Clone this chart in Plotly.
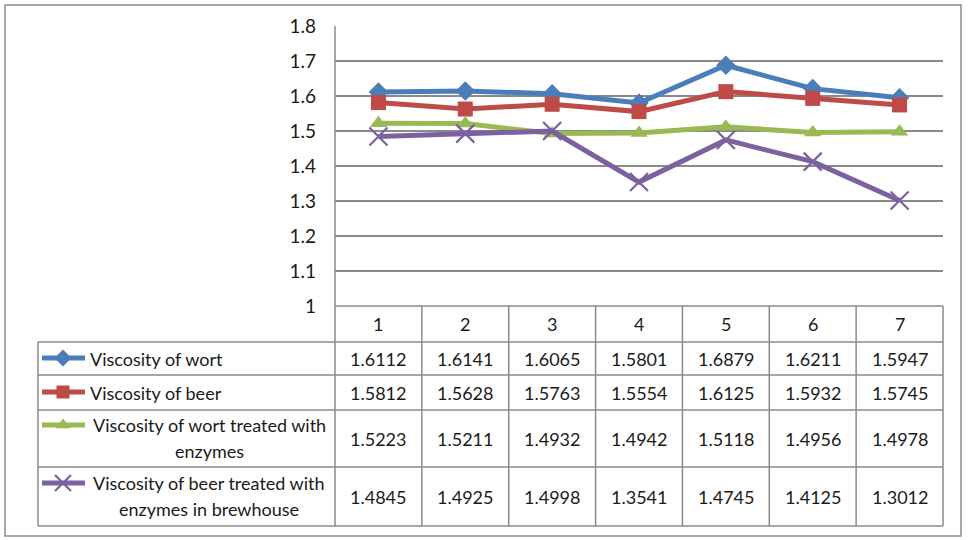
import plotly.graph_objects as go

W, H = 970, 540

categories = [1, 2, 3, 4, 5, 6, 7]
series_names = [
    "Viscosity of wort",
    "Viscosity of beer",
    "Viscosity of wort treated with<br>enzymes",
    "Viscosity of beer treated with<br>enzymes in brewhouse",
]
wort = [1.6112, 1.6141, 1.6065, 1.5801, 1.6879, 1.6211, 1.5947]
beer = [1.5812, 1.5628, 1.5763, 1.5554, 1.6125, 1.5932, 1.5745]
wort_enz = [1.5223, 1.5211, 1.4932, 1.4942, 1.5118, 1.4956, 1.4978]
beer_enz = [1.4845, 1.4925, 1.4998, 1.3541, 1.4745, 1.4125, 1.3012]
y_ticks = [1, 1.1, 1.2, 1.3, 1.4, 1.5, 1.6, 1.7, 1.8]
y_tick_labels = ["1", "1.1", "1.2", "1.3", "1.4", "1.5", "1.6", "1.7", "1.8"]

all_series = [wort, beer, wort_enz, beer_enz]
colors = ["#4A7EBB", "#BE4B48", "#98B954", "#7D60A0"]
symbols = ["diamond", "square", "triangle-up", "x-thin-open"]
msizes = [15, 15, 15, 18]

FONT = "Lato, Carlito, Calibri, 'Liberation Sans', sans-serif"
GRID = "#8A8A8A"
TXT = "#1a1a1a"
FS = 18

# pixel layout
PX_L, PX_R = 335, 943
PY_TOP, PY_BOT = 26, 306
col_w = (PX_R - PX_L) / 7
row_edges = [306, 342, 375, 410, 467, 526]
TBL_L = 38

fig = go.Figure()

# data lines
for s, name, c, sym, ms in zip(all_series, series_names, colors, symbols, msizes):
    mk = dict(symbol=sym, size=ms, color=c)
    if sym.startswith("x"):
        mk["line"] = dict(color=c, width=2.2)
    fig.add_trace(go.Scatter(
        x=categories, y=s, mode="lines+markers", name=name.replace("<br>", " "),
        line=dict(color=c, width=5), marker=mk, xaxis="x", yaxis="y",
        hoverinfo="skip", showlegend=False))

# legend keys in table (overlay pixel axis)
key_rows_y = [358, 392, 425, 483]
for i, (c, sym, ms) in enumerate(zip(colors, symbols, msizes)):
    ky = key_rows_y[i]
    mk = dict(symbol=sym, size=ms - 2, color=c)
    if sym.startswith("x"):
        mk["line"] = dict(color=c, width=2.2)
    fig.add_trace(go.Scatter(
        x=[42, 63, 85], y=[ky, ky, ky], mode="lines", line=dict(color=c, width=5),
        xaxis="x2", yaxis="y2", hoverinfo="skip", showlegend=False))
    fig.add_trace(go.Scatter(
        x=[63], y=[ky], mode="markers", marker=mk,
        xaxis="x2", yaxis="y2", hoverinfo="skip", showlegend=False))

shapes = []
# outer border
shapes.append(dict(type="rect", xref="x2", yref="y2", x0=5, y0=5, x1=961, y1=536,
                   line=dict(color="#8C8C8C", width=1.5), layer="below"))
# plot-area left axis line
shapes.append(dict(type="line", xref="x2", yref="y2", x0=PX_L, y0=PY_TOP, x1=PX_L, y1=PY_BOT,
                   line=dict(color=GRID, width=1.5)))
# table horizontal lines
shapes.append(dict(type="line", xref="x2", yref="y2", x0=PX_L, y0=row_edges[0], x1=PX_R, y1=row_edges[0],
                   line=dict(color=GRID, width=1.5)))
for ry in row_edges[1:]:
    shapes.append(dict(type="line", xref="x2", yref="y2", x0=TBL_L, y0=ry, x1=PX_R, y1=ry,
                       line=dict(color=GRID, width=1.5)))
# table vertical lines
shapes.append(dict(type="line", xref="x2", yref="y2", x0=TBL_L, y0=row_edges[1], x1=TBL_L, y1=row_edges[-1],
                   line=dict(color=GRID, width=1.5)))
for k in range(8):
    xx = PX_L + k * col_w
    shapes.append(dict(type="line", xref="x2", yref="y2", x0=xx, y0=row_edges[0], x1=xx, y1=row_edges[-1],
                       line=dict(color=GRID, width=1.5)))

annotations = []
# header row
for k, cat in enumerate(categories):
    annotations.append(dict(x=PX_L + (k + 0.5) * col_w, y=(row_edges[0] + row_edges[1]) / 2,
                            xref="x2", yref="y2", text=str(cat), showarrow=False,
                            font=dict(family=FONT, size=FS, color=TXT), xanchor="center", yanchor="middle"))
# values
for i, s in enumerate(all_series):
    cy = (row_edges[i + 1] + row_edges[i + 2]) / 2
    for k, v in enumerate(s):
        annotations.append(dict(x=PX_L + (k + 0.5) * col_w, y=cy, xref="x2", yref="y2",
                                text=f"{v:.4f}", showarrow=False,
                                font=dict(family=FONT, size=FS, color=TXT),
                                xanchor="center", yanchor="middle"))
    # series label
    parts = series_names[i].split("<br>")
    if len(parts) > 1:
        for j, part in enumerate(parts):
            annotations.append(dict(x=209, y=key_rows_y[i] + j * 26, xref="x2", yref="y2",
                                    text=part, showarrow=False,
                                    font=dict(family=FONT, size=FS, color=TXT),
                                    xanchor="center", yanchor="middle"))
    else:
        annotations.append(dict(x=88, y=cy, xref="x2", yref="y2", text=parts[0], showarrow=False,
                                font=dict(family=FONT, size=FS, color=TXT),
                                xanchor="left", yanchor="middle"))

fig.update_layout(
    width=W, height=H,
    margin=dict(l=0, r=0, t=0, b=0, pad=0),
    paper_bgcolor="white", plot_bgcolor="rgba(0,0,0,0)",
    xaxis=dict(domain=[PX_L / W, PX_R / W], range=[0.5, 7.5], visible=False, fixedrange=True,
               automargin=False),
    yaxis=dict(domain=[1 - PY_BOT / H, 1 - PY_TOP / H], range=[1, 1.8],
               tickvals=y_ticks, ticktext=y_tick_labels, showgrid=True, gridcolor=GRID, gridwidth=1.5,
               zeroline=False, showline=False, ticks="", ticklabelstandoff=18, automargin=False,
               tickfont=dict(family=FONT, size=19, color=TXT), fixedrange=True),
    xaxis2=dict(domain=[0, 1], range=[0, W], visible=False, fixedrange=True, anchor="y2",
                automargin=False),
    yaxis2=dict(domain=[0, 1], range=[H, 0], visible=False, fixedrange=True, anchor="x2",
                automargin=False),
    shapes=shapes, annotations=annotations, showlegend=False,
)

fig.write_html("out.html", config={"displayModeBar": False},
               post_script="document.body.style.margin='0';document.body.style.overflow='hidden';")
